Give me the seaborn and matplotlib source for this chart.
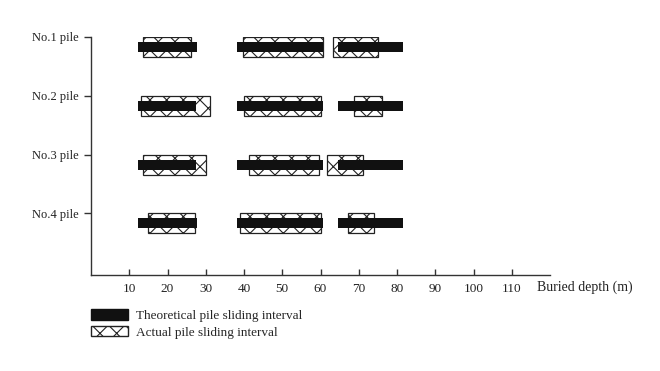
import matplotlib
matplotlib.use("Agg")
import matplotlib.pyplot as plt
import seaborn as sns
from matplotlib.patches import Patch

piles = ["No.1 pile", "No.2 pile", "No.3 pile", "No.4 pile"]

# Theoretical sliding intervals (start, end) in m, per pile
theory_start = [[12.4, 38.1, 64.6], [12.4, 38.1, 64.6], [12.4, 38.2, 64.6], [12.4, 38.1, 64.6]]
theory_end = [[27.7, 60.6, 81.5], [27.5, 60.6, 81.5], [27.5, 60.6, 81.5], [27.7, 60.6, 81.5]]

# Actual sliding intervals (start, end) in m, per pile
actual_start = [[13.5, 39.8, 63.3], [13.0, 40.1, 68.8], [13.5, 41.4, 61.8], [15.0, 39.0, 67.1]]
actual_end = [[26.2, 60.6, 75.1], [31.1, 60.1, 76.1], [30.0, 59.7, 71.2], [27.2, 60.1, 74.1]]

x_ticks = [10, 20, 30, 40, 50, 60, 70, 80, 90, 100, 110]

sns.set_style("ticks")
plt.rcParams["font.family"] = ["Liberation Serif", "DejaVu Serif"]
plt.rcParams["hatch.linewidth"] = 0.8

fig = plt.figure(figsize=(6.6, 3.71), dpi=100)
ax = fig.add_axes([91 / 660, 1 - 275 / 371, (550 - 91) / 660, (275 - 37) / 371])

box_h = 0.34
bar_h = 0.17
for i in range(len(piles)):
    for s, e in zip(actual_start[i], actual_end[i]):
        ax.barh(i, e - s, left=s, height=box_h, align="edge",
                facecolor="white", edgecolor="#222222", linewidth=0.9, hatch="xx", zorder=2)
    for s, e in zip(theory_start[i], theory_end[i]):
        ax.barh(i + box_h / 2, e - s, left=s, height=bar_h, align="center",
                color="#111111", linewidth=0, zorder=3)

ax.set_xlim(0, 120)
ax.set_ylim(4.05, 0)
ax.set_xticks(x_ticks)
ax.set_xticklabels([str(t) for t in x_ticks])
ax.set_yticks(range(len(piles)))
ax.set_yticklabels(piles)

for side in ["top", "right"]:
    ax.spines[side].set_visible(False)
for side in ["left", "bottom"]:
    ax.spines[side].set_color("#333333")
    ax.spines[side].set_linewidth(1.0)

ax.tick_params(axis="x", direction="in", length=4, width=1, color="#333333",
               labelsize=9.5, pad=6, labelcolor="#222222")
ax.tick_params(axis="y", direction="out", length=5, width=1, color="#333333",
               labelsize=9, pad=4, labelcolor="#222222")

fig.text(537 / 660, 1 - 287 / 371, "Buried depth (m)", fontsize=10, color="#222222",
         ha="left", va="center")

handles = [Patch(facecolor="#111111", edgecolor="#111111", label="Theoretical pile sliding interval"),
           Patch(facecolor="white", edgecolor="#222222", hatch="xx", label="Actual pile sliding interval")]
fig.legend(handles=handles, loc="upper left", bbox_to_anchor=(91 / 660, 1 - 309 / 371),
           frameon=False, fontsize=9.5, handlelength=2.8, handleheight=0.85,
           handletextpad=0.6, labelspacing=0.3, borderaxespad=0, borderpad=0)

fig.savefig("out.png", dpi=100)
